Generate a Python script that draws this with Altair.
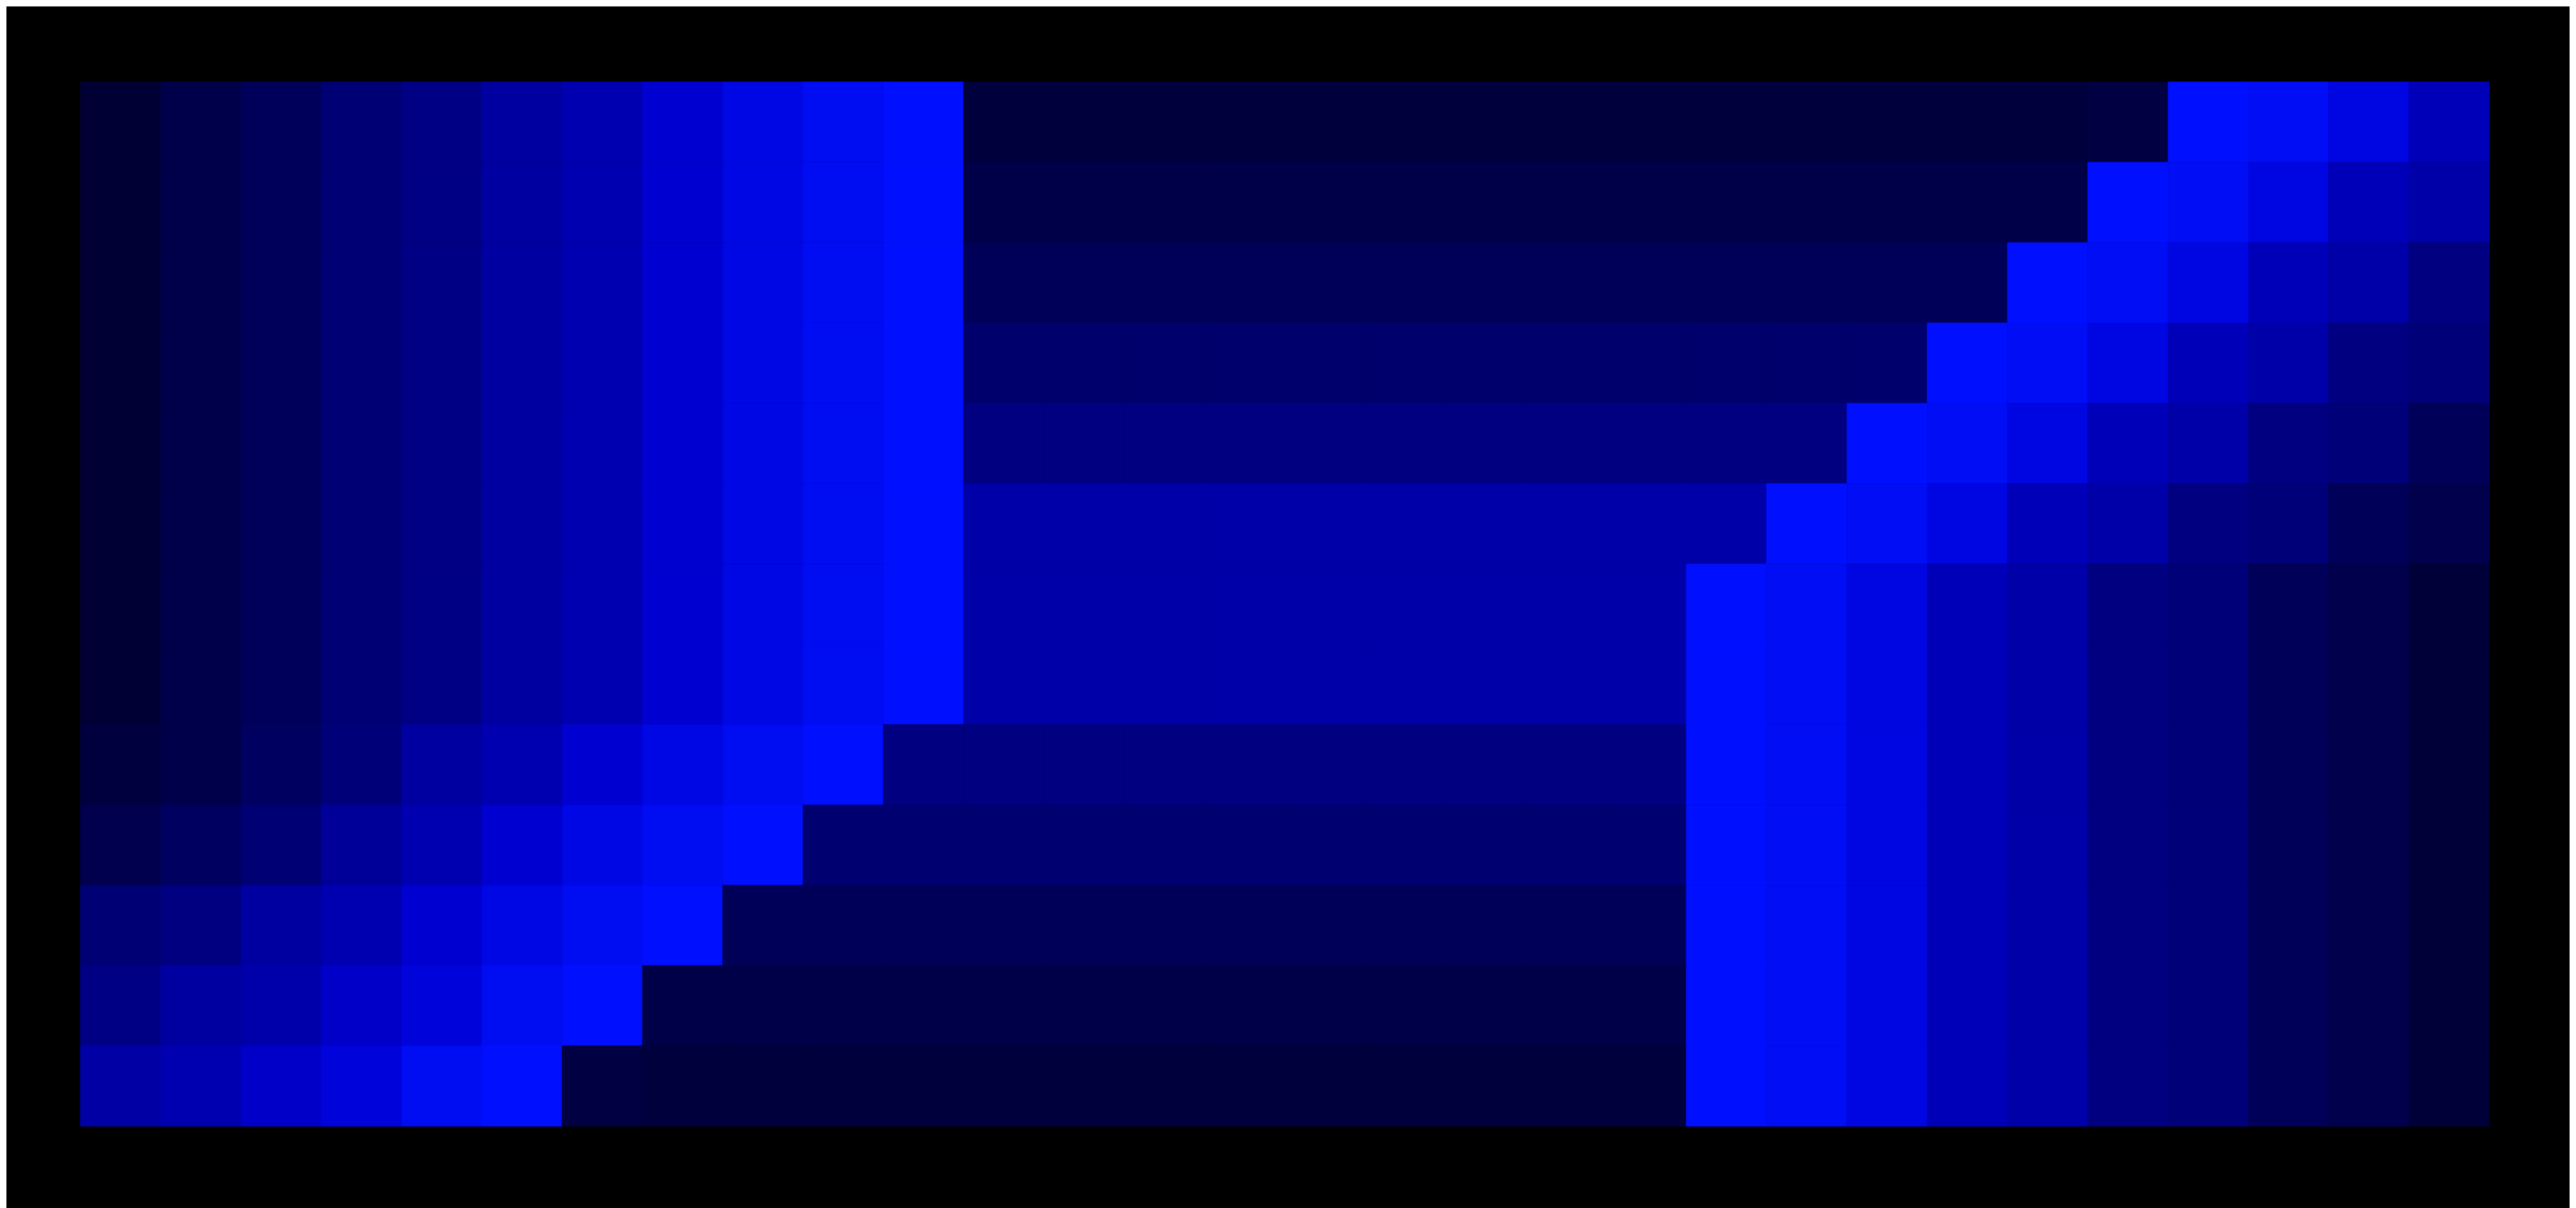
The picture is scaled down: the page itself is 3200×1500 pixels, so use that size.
import altair as alt
import pandas as pd

# Cell intensities (blue level), 13 rows x 30 columns, top row first
row_00 = [53, 74, 90, 117, 133, 160, 176, 208, 229, 242, 255, 60, 60, 60, 60, 60, 60, 60, 60, 60, 60, 60, 60, 60, 60, 66, 255, 245, 226, 184]
row_01 = [53, 74, 90, 117, 133, 160, 176, 208, 229, 242, 255, 72, 72, 72, 72, 72, 72, 72, 72, 72, 72, 72, 72, 72, 72, 255, 245, 226, 184, 168]
row_02 = [53, 74, 90, 117, 133, 160, 176, 208, 229, 242, 255, 88, 88, 88, 88, 88, 88, 88, 88, 88, 88, 88, 88, 88, 255, 245, 226, 184, 168, 128]
row_03 = [53, 74, 90, 117, 133, 160, 176, 208, 229, 242, 255, 108, 108, 108, 108, 108, 108, 108, 108, 108, 108, 108, 108, 255, 245, 226, 184, 168, 128, 120]
row_04 = [53, 74, 90, 117, 133, 160, 176, 208, 229, 242, 255, 128, 128, 128, 128, 128, 128, 128, 128, 128, 128, 128, 255, 245, 226, 184, 168, 128, 120, 88]
row_05 = [53, 74, 90, 117, 133, 160, 176, 208, 229, 242, 255, 168, 168, 168, 168, 168, 168, 168, 168, 168, 168, 255, 245, 226, 184, 168, 128, 120, 88, 76]
row_06 = [53, 74, 90, 117, 133, 160, 176, 208, 229, 242, 255, 168, 168, 168, 168, 168, 168, 168, 168, 168, 255, 245, 226, 184, 168, 128, 120, 88, 76, 56]
row_07 = [53, 74, 90, 117, 133, 160, 176, 208, 229, 242, 255, 168, 168, 168, 168, 168, 168, 168, 168, 168, 255, 245, 226, 184, 168, 128, 120, 88, 76, 56]
row_08 = [62, 74, 96, 120, 160, 176, 208, 229, 242, 255, 128, 128, 128, 128, 128, 128, 128, 128, 128, 128, 255, 245, 226, 184, 168, 128, 120, 88, 76, 56]
row_09 = [78, 96, 117, 152, 176, 208, 229, 242, 255, 112, 112, 112, 112, 112, 112, 112, 112, 112, 112, 112, 255, 245, 226, 184, 168, 128, 120, 88, 76, 56]
row_10 = [117, 128, 160, 176, 208, 229, 242, 255, 88, 88, 88, 88, 88, 88, 88, 88, 88, 88, 88, 88, 255, 245, 226, 184, 168, 128, 120, 88, 76, 56]
row_11 = [133, 160, 170, 200, 218, 242, 255, 72, 72, 72, 72, 72, 72, 72, 72, 72, 72, 72, 72, 72, 255, 245, 226, 184, 168, 128, 120, 88, 76, 56]
row_12 = [164, 176, 200, 218, 242, 255, 66, 60, 60, 60, 60, 60, 60, 60, 60, 60, 60, 60, 60, 60, 255, 245, 226, 184, 168, 128, 120, 88, 76, 56]

rows = [row_00, row_01, row_02, row_03, row_04, row_05, row_06,
        row_07, row_08, row_09, row_10, row_11, row_12]

records = []
for r, vals in enumerate(rows):
    for c, v in enumerate(vals):
        records.append({"row": r, "col": c, "v": v})
df = pd.DataFrame(records)

cscale = alt.Scale(domain=[48, 208, 255],
                   range=["#000030", "#0000d0", "#0010ff"],
                   interpolate="rgb")

chart = alt.Chart(df).mark_rect(strokeWidth=0.6).encode(
    x=alt.X("col:O", axis=None, scale=alt.Scale(paddingInner=0, paddingOuter=0)),
    y=alt.Y("row:O", axis=None, scale=alt.Scale(paddingInner=0, paddingOuter=0)),
    color=alt.Color("v:Q", legend=None, scale=cscale),
    stroke=alt.Stroke("v:Q", legend=None, scale=cscale),
).properties(
    width=3000,
    height=1300,
    background="black",
    padding={"left": 92, "top": 92, "right": 100, "bottom": 100},
    autosize=alt.AutoSizeParams(type="none"),
).configure_view(stroke=None)

chart.save("out.html", embed_options={"renderer": "svg", "actions": False})
